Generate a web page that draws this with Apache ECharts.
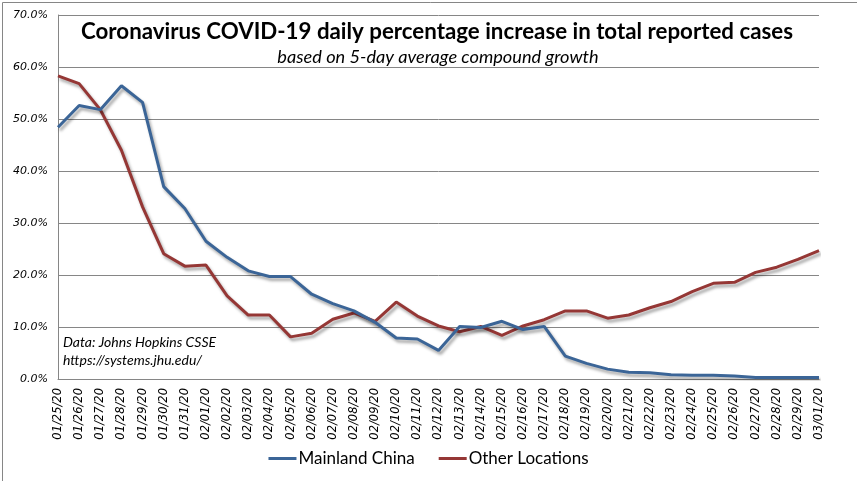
<!DOCTYPE html>
<html><head><meta charset="utf-8">
<script src="https://cdn.jsdelivr.net/npm/echarts@6/dist/echarts.min.js"></script>
<style>html,body{margin:0;padding:0;background:#fff}#c{width:857px;height:481px}</style>
</head><body><div id="c"></div>
<script>
var categories = ["01/25/20","01/26/20","01/27/20","01/28/20","01/29/20","01/30/20","01/31/20",
"02/01/20","02/02/20","02/03/20","02/04/20","02/05/20","02/06/20","02/07/20","02/08/20","02/09/20","02/10/20",
"02/11/20","02/12/20","02/13/20","02/14/20","02/15/20","02/16/20","02/17/20","02/18/20","02/19/20","02/20/20",
"02/21/20","02/22/20","02/23/20","02/24/20","02/25/20","02/26/20","02/27/20","02/28/20","02/29/20","03/01/20"];
var mainlandChina = [48.4,52.6,51.8,56.4,53.2,37.0,32.8,26.5,23.4,20.8,19.7,19.7,16.3,14.5,13.1,10.9,7.9,
7.7,5.5,10.1,9.9,11.1,9.5,10.1,4.4,3.0,1.9,1.3,1.2,0.8,0.7,0.7,0.6,0.3,0.3,0.3,0.3];
var otherLocations = [58.3,56.8,51.8,44.0,33.1,24.1,21.7,21.9,16.0,12.3,12.3,8.1,8.8,11.5,12.7,11.1,14.8,
12.1,10.2,9.1,10.1,8.4,10.2,11.4,13.1,13.1,11.7,12.3,13.7,14.9,16.8,18.4,18.6,20.5,21.5,23.0,24.7];
var yTicks = {min:0, max:70, interval:10};
var titleText = "Coronavirus COVID-19 daily percentage increase in total reported cases";
var subtitleText = "based on 5-day average compound growth";
var noteLines = ["Data: Johns Hopkins CSSE", "https://systems.jhu.edu/"];

var chart = echarts.init(document.getElementById('c'), null, {renderer:'canvas'});
var shadow = {shadowColor:'rgba(0,0,0,0.35)', shadowBlur:3, shadowOffsetX:2, shadowOffsetY:3};
chart.setOption({
  animation:false,
  backgroundColor:'#fff',
  grid:{left:58, right:38, top:15, bottom:102, containLabel:false},
  legend:{
    bottom:9, left:'center', itemWidth:28, itemHeight:3, itemGap:24,
    icon:'rect',
    textStyle:{fontFamily:'Lato', fontSize:17, color:'#000', padding:[0,0,0,-3]},
    data:['Mainland China','Other Locations']
  },
  xAxis:{
    type:'category', data:categories, boundaryGap:false,
    axisLine:{lineStyle:{color:'#868686', width:1}},
    axisTick:{show:false},
    axisLabel:{rotate:90, interval:0, margin:9, fontFamily:'DejaVu Sans', fontStyle:'italic', fontSize:11.5, color:'#000'},
    splitLine:{show:false}
  },
  yAxis:{
    type:'value', min:yTicks.min, max:yTicks.max, interval:yTicks.interval,
    axisLine:{show:true, lineStyle:{color:'#868686', width:1}},
    axisTick:{show:false},
    axisLabel:{margin:10, fontFamily:'DejaVu Sans', fontStyle:'italic', fontSize:11, color:'#000',
      formatter:function(v){return v.toFixed(1)+'%';}},
    splitLine:{lineStyle:{color:'#868686', width:1}}
  },
  series:[
    {name:'Mainland China', type:'line', data:mainlandChina, showSymbol:false, symbol:'none',
     itemStyle:{color:'#3b6597'}, lineStyle:Object.assign({color:'#3b6597', width:3}, shadow), z:3},
    {name:'Other Locations', type:'line', data:otherLocations, showSymbol:false, symbol:'none',
     itemStyle:{color:'#953735'}, lineStyle:Object.assign({color:'#953735', width:3}, shadow), z:2}
  ],
  graphic:[
    {type:'rect', left:0, top:0, shape:{width:856, height:480}, style:{fill:'none', stroke:'#868686', lineWidth:1}, silent:true, z:10},
    {type:'text', x:437, y:32, z:10, style:{text:titleText, textAlign:'center', textVerticalAlign:'middle', fontFamily:'Lato', fontWeight:'bold', fontSize:22.3, fill:'#000', backgroundColor:'#fff'}},
    {type:'text', x:438, y:57, z:10, style:{text:subtitleText, textAlign:'center', textVerticalAlign:'middle', fontFamily:'Lato', fontStyle:'italic', fontSize:18.2, fill:'#000'}},
    {type:'text', left:63, top:333, style:{text:noteLines.join('\n'), fontFamily:'Lato', fontStyle:'italic', fontSize:14, lineHeight:18, fill:'#000'}}
  ]
});
</script></body></html>
